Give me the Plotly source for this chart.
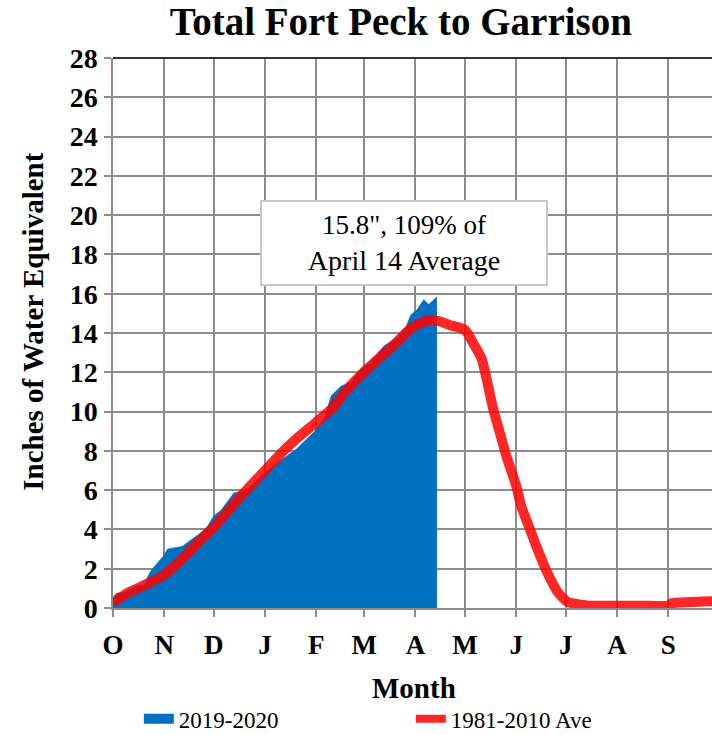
import plotly.graph_objects as go

# ---- data ----
month_ticks = ["2019-10-01", "2019-11-01", "2019-12-01", "2020-01-01", "2020-02-01", "2020-03-01",
               "2020-04-01", "2020-05-01", "2020-06-01", "2020-07-01", "2020-08-01", "2020-09-01"]
month_labels = ["O", "N", "D", "J", "F", "M", "A", "M", "J", "J", "A", "S"]

cur_dates = ["2019-10-01", "2019-10-03", "2019-10-08", "2019-10-12", "2019-10-16", "2019-10-20",
             "2019-10-22", "2019-10-24", "2019-10-27", "2019-10-31", "2019-11-03", "2019-11-08",
             "2019-11-12", "2019-11-16", "2019-11-21", "2019-11-26", "2019-12-01", "2019-12-05",
             "2019-12-10", "2019-12-13", "2019-12-20", "2019-12-26", "2020-01-01", "2020-01-10",
             "2020-01-20", "2020-01-31", "2020-02-06", "2020-02-08", "2020-02-10", "2020-02-16",
             "2020-02-22", "2020-02-28", "2020-03-04", "2020-03-13", "2020-03-20", "2020-03-26",
             "2020-03-29", "2020-04-02", "2020-04-06", "2020-04-09", "2020-04-11", "2020-04-14"]
cur_swe = [0.5, 0.75, 0.8, 1.0, 1.15, 1.15,
           1.6, 1.9, 2.2, 2.6, 3.0, 3.1,
           3.15, 3.4, 3.7, 4.0, 4.7, 4.95,
           5.5, 5.85, 6.0, 6.4, 6.9, 7.5,
           8.1, 9.0, 9.7, 10.3, 10.8, 11.3,
           11.5, 12.2, 12.45, 13.35, 13.7, 14.25,
           14.9, 15.2, 15.7, 15.45, 15.6, 15.85]

avg_dates = ["2019-10-01", "2019-10-11", "2019-10-16", "2019-10-22", "2019-11-01", "2019-11-09",
             "2019-11-16", "2019-11-26", "2019-12-01", "2019-12-12", "2019-12-22", "2020-01-01",
             "2020-01-11", "2020-01-21", "2020-02-01", "2020-02-11", "2020-02-20", "2020-03-01",
             "2020-03-11", "2020-03-21", "2020-03-27", "2020-04-01", "2020-04-09", "2020-04-15",
             "2020-04-22", "2020-05-01", "2020-05-06", "2020-05-11", "2020-05-14", "2020-05-18",
             "2020-05-22", "2020-05-26", "2020-06-01", "2020-06-04", "2020-06-09", "2020-06-14",
             "2020-06-20", "2020-06-26", "2020-07-02", "2020-07-10", "2020-07-15", "2020-08-15",
             "2020-09-01", "2020-09-03", "2020-09-14", "2020-09-30"]
avg_swe = [0.28, 0.82, 1.0, 1.25, 1.68, 2.28,
           2.87, 3.73, 4.12, 5.18, 6.12, 7.0,
           7.9, 8.69, 9.46, 10.2, 11.16, 12.02,
           12.79, 13.56, 14.07, 14.38, 14.65, 14.6,
           14.4, 14.15, 13.47, 12.7, 11.68, 10.14,
           8.94, 7.74, 6.2, 5.18, 4.07, 2.96,
           1.76, 0.82, 0.31, 0.17, 0.12, 0.12,
           0.12, 0.24, 0.3, 0.35]

y_ticks = list(range(0, 29, 2))

SERIF = "Liberation Serif"
BLUE = "#0070C0"
RED = "rgba(255,0,0,0.85)"

fig = go.Figure()
fig.add_trace(go.Scatter(
    x=cur_dates, y=cur_swe, name="2019-2020", mode="lines", showlegend=False,
    legendgroup="cur", fill="tozeroy", fillcolor=BLUE, line=dict(color=BLUE, width=0.5),
))
fig.add_trace(go.Scatter(
    x=avg_dates, y=avg_swe, name="1981-2010 Ave", mode="lines", showlegend=False,
    legendgroup="avg",
    line=dict(color=RED, width=10, shape="spline", smoothing=0.6),
))
# legend entries
fig.add_trace(go.Scatter(x=[None], y=[None], name="2019-2020", mode="lines",
                         legendgroup="cur", line=dict(color=BLUE, width=13)))
fig.add_trace(go.Scatter(x=[None], y=[None], name="1981-2010 Ave", mode="lines",
                         legendgroup="avg", line=dict(color="#ff2626", width=8)))

fig.add_annotation(
    x="2020-03-25", y=18.6, xref="x", yref="y",
    text="<span style='font-size:27px'>15.8\", 109% of</span><br>April 14 Average",
    showarrow=False,
    font=dict(family=SERIF, size=28, color="black"),
    bgcolor="white", bordercolor="#c8c8c8", borderwidth=2, borderpad=2,
    width=280, height=78,
)

# axis titles
fig.add_annotation(
    text="Month", xref="paper", yref="paper", x=0.503, y=-0.145,
    xanchor="center", yanchor="middle", showarrow=False,
    font=dict(family=SERIF, size=29, color="black", weight="bold"),
)
fig.add_annotation(
    text="Inches of Water Equivalent", xref="paper", yref="paper", x=-0.134, y=0.52,
    xanchor="center", yanchor="middle", showarrow=False, textangle=-90,
    font=dict(family=SERIF, size=29, color="black", weight="bold"),
)

fig.add_shape(type="line", xref="paper", yref="paper", x0=0, x1=1, y0=1, y1=1,
              line=dict(color="#333333", width=2))

fig.update_layout(
    width=712, height=735,
    margin=dict(l=113, r=0, t=58, b=127),
    paper_bgcolor="white", plot_bgcolor="white",
    title=dict(text="Total Fort Peck to Garrison", x=0.563, xanchor="center",
               xref="container", yref="container", y=0.971, yanchor="middle",
               font=dict(family=SERIF, size=39, color="black", weight="bold")),
    showlegend=True,
    legend=dict(orientation="h", xref="container", yref="container",
                x=0.195, y=0.022, xanchor="left", yanchor="middle",
                font=dict(family=SERIF, size=23, color="black"),
                entrywidth=227, entrywidthmode="pixels", traceorder="normal",
                bgcolor="rgba(0,0,0,0)"),
    font=dict(family=SERIF, color="black"),
)

fig.update_xaxes(
    type="date", range=["2019-10-01", "2020-09-27 10:00"], automargin=False,
    tickmode="array", tickvals=month_ticks, ticktext=month_labels,
    showgrid=True, gridcolor="#8c8c8c", gridwidth=1.5,
    showline=True, linecolor="#8c8c8c", linewidth=1.5,
    ticks="outside", ticklen=7, tickcolor="#8c8c8c", tickwidth=1.5,
    tickfont=dict(family=SERIF, size=27, color="black", weight="bold"),
    ticklabelstandoff=5,
    zeroline=False,
)
fig.update_yaxes(
    range=[0, 28], tickmode="array", tickvals=y_ticks, automargin=False,
    showgrid=True, gridcolor="#8c8c8c", gridwidth=1.5,
    showline=True, linecolor="#8c8c8c", linewidth=1.5,
    ticks="outside", ticklen=7, tickcolor="#8c8c8c", tickwidth=1.5,
    tickfont=dict(family=SERIF, size=28, color="black", weight="bold"),
    ticklabelstandoff=1,
    zeroline=False,
)

fig.write_html("out.html", config={"displayModeBar": False},
               post_script="document.body.style.margin='0px';")
